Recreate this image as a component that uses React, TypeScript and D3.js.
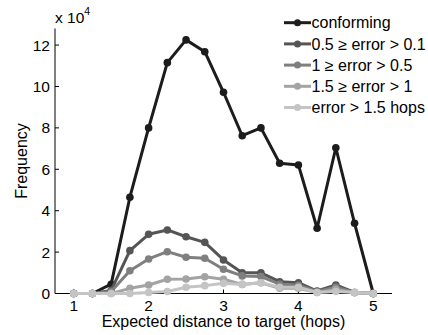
import * as d3 from "d3";
import React from "react";

// expected distance to target (hops)
const hops = [1, 1.25, 1.5, 1.75, 2, 2.25, 2.5, 2.75, 3, 3.25, 3.5, 3.75, 4, 4.25, 4.5, 4.75, 5];

// frequencies, x 10^4
const conforming = [0, 0, 0.45, 4.65, 8.0, 11.15, 12.25, 11.68, 9.72, 7.62, 8.0, 6.29, 6.21, 3.15, 7.04, 3.39, 0];
const err01 = [0, 0, 0.15, 2.07, 2.86, 3.07, 2.74, 2.47, 1.62, 1.0, 1.0, 0.57, 0.52, 0.12, 0.41, 0.05, 0];
const err05 = [0, 0, 0.1, 1.1, 1.67, 2.02, 1.75, 1.7, 1.17, 0.85, 0.82, 0.45, 0.4, 0.1, 0.3, 0.05, 0];
const err1 = [0, 0, 0, 0.25, 0.41, 0.69, 0.7, 0.81, 0.69, 0.44, 0.52, 0.25, 0.25, 0.05, 0.2, 0.05, 0];
const err15 = [0, 0, 0, 0, 0.05, 0.1, 0.3, 0.38, 0.49, 0.44, 0.52, 0.3, 0.3, 0.05, 0.1, 0.05, 0];

const seriesNames = ["conforming", "0.5 \u2265 error > 0.1", "1 \u2265 error > 0.5", "1.5 \u2265 error > 1", "error > 1.5 hops"];
const seriesValues = [conforming, err01, err05, err1, err15];
const colors = ["#1c1c1c", "#555555", "#7f7f7f", "#a3a3a3", "#c4c4c4"];

const xTicks = [1, 2, 3, 4, 5];
const yTicks = [0, 2, 4, 6, 8, 10, 12];

const W = 428, H = 335;
const m = { l: 55, r: 36, t: 28.5, b: 41.5 };
const font = "'Liberation Sans', Arial, Helvetica, sans-serif";

const App: React.FC = () => {
  const x = d3.scaleLinear([0.75, 5.25], [m.l, W - m.r]);
  const y = d3.scaleLinear([0, 12.8], [H - m.b, m.t]);
  const line = d3.line<number>((_, i) => x(hops[i]), (d) => y(d));

  return (
    <svg width={W} height={H} style={{ position: "absolute", left: 0, top: 0, background: "#fff" }}
      fontFamily={font}>
      {/* axes */}
      <line x1={m.l} x2={m.l} y1={y(12.8)} y2={y(0)} stroke="#000" strokeWidth={1} />
      <line x1={m.l} x2={x(5.25)} y1={y(0)} y2={y(0)} stroke="#000" strokeWidth={1} />
      {yTicks.map((t) => (
        <g key={"y" + t}>
          <line x1={m.l} x2={m.l + 4} y1={y(t)} y2={y(t)} stroke="#000" />
          <text x={m.l - 5} y={y(t)} dy="0.36em" textAnchor="end" fontSize={15.5}>{t}</text>
        </g>
      ))}
      {xTicks.map((t) => (
        <g key={"x" + t}>
          <line x1={x(t)} x2={x(t)} y1={y(0)} y2={y(0) - 4} stroke="#000" />
          <text x={x(t)} y={y(0) + 17.5} textAnchor="middle" fontSize={15.5}>{t}</text>
        </g>
      ))}
      <text x={m.l} y={23} fontSize={15.5}>x 10<tspan dy={-8} fontSize={10.5}>4</tspan></text>
      <text x={x(3)} y={327} textAnchor="middle" fontSize={16}>
        Expected distance to target (hops)
      </text>
      <text transform={`translate(27, ${(y(0) + y(12.8)) / 2}) rotate(-90)`} textAnchor="middle" fontSize={16}>
        Frequency
      </text>

      {/* series */}
      {seriesValues.map((vals, s) => (
        <g key={"s" + s}>
          <path d={line(vals) || ""} fill="none" stroke={colors[s]} strokeWidth={3} strokeLinejoin="round" />
          {vals.map((v, i) => (
            <circle key={i} cx={x(hops[i])} cy={y(v)} r={3.8} fill={colors[s]} />
          ))}
        </g>
      ))}

      {/* legend */}
      {seriesNames.map((name, s) => {
        const ly = 22.7 + s * 21.2;
        return (
          <g key={"l" + s}>
            <line x1={284} x2={311} y1={ly} y2={ly} stroke={colors[s]} strokeWidth={3} />
            <circle cx={297.5} cy={ly} r={3.5} fill={colors[s]} />
            <text x={311.5} y={ly} dy="0.36em" fontSize={16}>{name}</text>
          </g>
        );
      })}
    </svg>
  );
};

export default App;
